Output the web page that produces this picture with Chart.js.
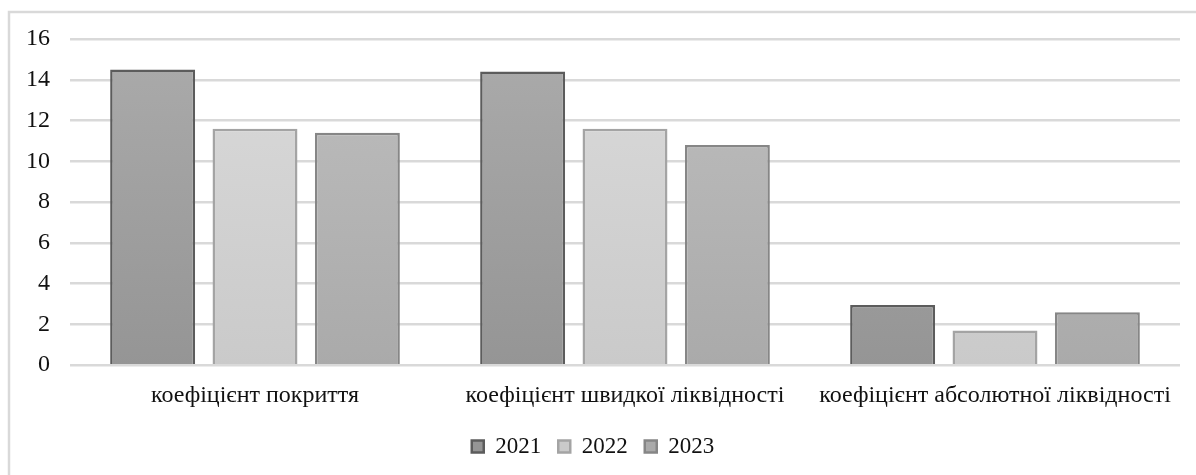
<!DOCTYPE html>
<html lang="uk">
<head>
<meta charset="utf-8">
<script src="https://cdn.jsdelivr.net/npm/chart.js@4.4.1/dist/chart.umd.min.js"></script>
<style>
  html, body { margin: 0; padding: 0; background: #fff; }
  #wrap { width: 1196px; height: 475px; position: relative; }
</style>
</head>
<body>
<div id="wrap"><canvas id="miGrafico"></canvas></div>
<script>
// Коефіцієнти ліквідності за роками
const categorias = ['коефіцієнт покриття', 'коефіцієнт швидкої ліквідності', 'коефіцієнт абсолютної ліквідності'];
const anios = ['2021', '2022', '2023'];
const valores2021 = [14.5, 14.4, 2.95];
const valores2022 = [11.6, 11.6, 1.7];
const valores2023 = [11.4, 10.8, 2.6];

const fuente = '"Liberation Serif", "Times New Roman", serif';

// relleno con degradado vertical (arriba más claro)
const degradado = (arriba, abajo) => (ctx) => {
    const area = ctx.chart.chartArea;
    if (!area) return arriba;
    const g = ctx.chart.ctx.createLinearGradient(0, area.top, 0, area.bottom);
    g.addColorStop(0, arriba);
    g.addColorStop(1, abajo);
    return g;
};

// marco gris alrededor del gráfico
const marco = {
    id: 'marco',
    beforeDraw(chart) {
        const c = chart.ctx;
        c.save();
        c.strokeStyle = '#d9d9d9';
        c.lineWidth = 2.5;
        c.strokeRect(9, 12, 1300, 600);
        c.restore();
    }
};

const crearGrafico = () => {
    Chart.defaults.font.family = fuente;
    const ctx = document.getElementById('miGrafico').getContext('2d');

    new Chart(ctx, {
        type: 'bar',
        data: {
            labels: categorias,
            datasets: [
                {
                    label: anios[0],
                    data: valores2021,
                    backgroundColor: degradado('#ababab', '#959595'),
                    borderColor: '#5c5c5c',
                    borderWidth: 2.5
                },
                {
                    label: anios[1],
                    data: valores2022,
                    backgroundColor: degradado('#dadada', '#cacaca'),
                    borderColor: '#a4a4a4',
                    borderWidth: 2.5
                },
                {
                    label: anios[2],
                    data: valores2023,
                    backgroundColor: degradado('#bebebe', '#aaaaaa'),
                    borderColor: '#868686',
                    borderWidth: 2.5
                }
            ]
        },
        options: {
            responsive: true,
            maintainAspectRatio: false,
            animation: false,
            categoryPercentage: 0.83,
            barPercentage: 0.83,
            layout: { padding: { top: 39, left: 6, right: 16, bottom: 7 } },
            scales: {
                x: {
                    grid: { display: false },
                    border: { display: false },
                    ticks: {
                        color: '#111',
                        font: { family: fuente, size: 24 },
                        padding: 8,
                        maxRotation: 0,
                        autoSkip: false
                    }
                },
                y: {
                    min: 0,
                    max: 16,
                    ticks: {
                        stepSize: 2,
                        color: '#111',
                        font: { family: fuente, size: 24 },
                        padding: 20
                    },
                    grid: {
                        color: '#d9d9d9',
                        lineWidth: 2.5,
                        drawTicks: false
                    },
                    border: { display: false }
                }
            },
            plugins: {
                legend: {
                    position: 'bottom',
                    labels: {
                        color: '#111',
                        font: { family: fuente, size: 23 },
                        boxWidth: 12,
                        boxHeight: 12,
                        padding: 17
                    }
                },
                tooltip: { enabled: false }
            }
        },
        plugins: [marco]
    });
};

// esperar la fuente antes de dibujar
document.fonts.load('24px "Liberation Serif"').then(crearGrafico, crearGrafico);
</script>
</body>
</html>
